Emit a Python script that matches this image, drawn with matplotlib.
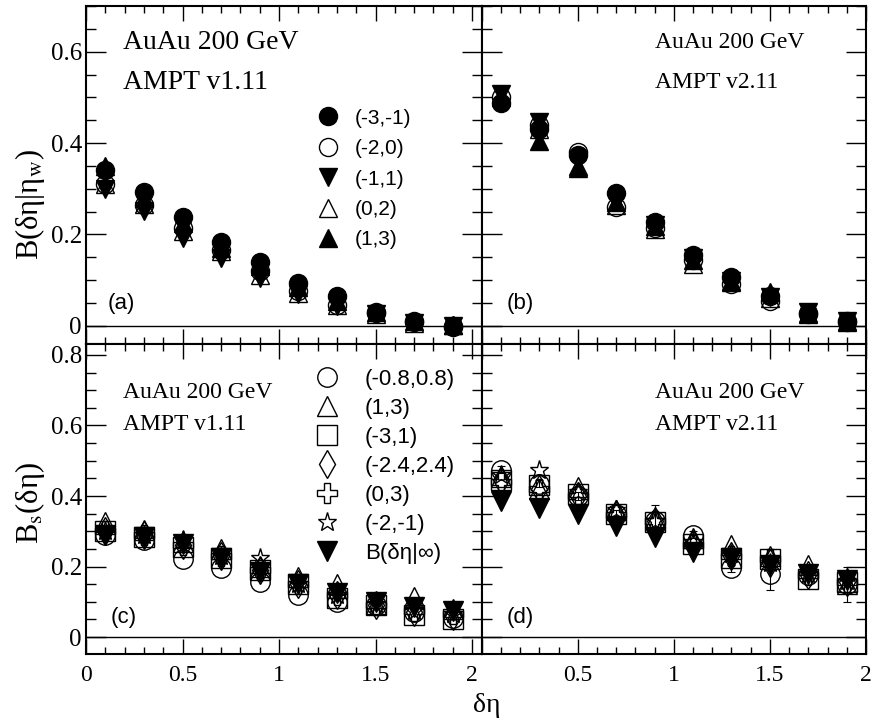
import matplotlib
matplotlib.use("Agg")
import matplotlib.pyplot as plt
from matplotlib.ticker import MultipleLocator, FuncFormatter

plt.rcParams["font.family"] = "Liberation Serif"
plt.rcParams["mathtext.fontset"] = "stix"

# Data
x_deta = [0.1, 0.3, 0.5, 0.7, 0.9, 1.1, 1.3, 1.5, 1.7, 1.9]

labels_ab = ["(-3,-1)", "(-2,0)", "(-1,1)", "(0,2)", "(1,3)"]
# panel (a): AMPT v1.11, B(deta|eta_w)
a_m3m1 = [0.340, 0.293, 0.239, 0.184, 0.140, 0.094, 0.064, 0.031, 0.011, -0.002]
a_m20 = [0.310, 0.265, 0.215, 0.165, 0.120, 0.075, 0.045, 0.028, 0.008, 0.000]
a_m11 = [0.300, 0.252, 0.193, 0.149, 0.105, 0.070, 0.044, 0.025, 0.006, 0.000]
a_02 = [0.310, 0.267, 0.208, 0.164, 0.112, 0.072, 0.045, 0.026, 0.007, 0.001]
a_13 = [0.350, 0.280, 0.225, 0.170, 0.130, 0.085, 0.055, 0.030, 0.010, 0.002]
# panel (b): AMPT v2.11
b_m3m1 = [0.488, 0.430, 0.374, 0.290, 0.228, 0.155, 0.107, 0.064, 0.028, 0.009]
b_m20 = [0.500, 0.440, 0.381, 0.260, 0.215, 0.145, 0.092, 0.055, 0.025, 0.010]
b_m11 = [0.508, 0.447, 0.360, 0.270, 0.220, 0.148, 0.097, 0.062, 0.030, 0.010]
b_02 = [0.500, 0.430, 0.350, 0.265, 0.212, 0.135, 0.095, 0.060, 0.026, 0.008]
b_13 = [0.500, 0.405, 0.346, 0.270, 0.218, 0.145, 0.098, 0.074, 0.027, 0.010]

labels_cd = ["(-0.8,0.8)", "(1,3)", "(-3,1)", "(-2.4,2.4)", "(0,3)", "(-2,-1)",
             "B(δη|∞)"]
# panel (c): AMPT v1.11, B_s(deta)
c_m08 = [0.290, 0.275, 0.220, 0.195, 0.155, 0.118, 0.100, 0.090, 0.070, 0.055]
c_13 = [0.325, 0.305, 0.270, 0.250, 0.200, 0.170, 0.150, 0.095, 0.113, 0.080]
c_m31 = [0.300, 0.285, 0.255, 0.225, 0.190, 0.150, 0.110, 0.090, 0.062, 0.050]
c_m24 = [0.300, 0.290, 0.260, 0.230, 0.190, 0.150, 0.120, 0.090, 0.070, 0.060]
c_03 = [0.300, 0.290, 0.260, 0.230, 0.190, 0.150, 0.120, 0.090, 0.075, 0.065]
c_m2m1 = [0.300, 0.290, 0.275, 0.230, 0.225, 0.150, 0.120, 0.095, 0.075, 0.065]
c_inf = [0.290, 0.285, 0.265, 0.225, 0.185, 0.150, 0.125, 0.100, 0.085, 0.075]
# panel (d): AMPT v2.11
d_m08 = [0.475, 0.435, 0.400, 0.350, 0.330, 0.290, 0.195, 0.180, 0.175, 0.150]
d_m08_err = [0.01, 0.01, 0.01, 0.01, 0.045, 0.01, 0.01, 0.047, 0.01, 0.05]
d_13 = [0.455, 0.420, 0.425, 0.360, 0.335, 0.280, 0.260, 0.230, 0.205, 0.150]
d_m31 = [0.445, 0.430, 0.405, 0.350, 0.325, 0.265, 0.225, 0.220, 0.165, 0.155]
d_m24 = [0.445, 0.420, 0.400, 0.350, 0.330, 0.265, 0.230, 0.210, 0.175, 0.155]
d_03 = [0.440, 0.420, 0.400, 0.345, 0.330, 0.260, 0.230, 0.220, 0.175, 0.155]
d_m2m1 = [0.460, 0.475, 0.410, 0.360, 0.330, 0.270, 0.235, 0.210, 0.180, 0.160]
d_inf = [0.385, 0.365, 0.350, 0.315, 0.285, 0.240, 0.225, 0.205, 0.180, 0.162]

# marker, filled, zorder
style_ab = [("o", True, 6), ("o", False, 3), ("v", True, 4), ("^", False, 3),
            ("^", True, 5)]
style_cd = [("o", False, 3), ("^", False, 3), ("s", False, 3), ("d", False, 3),
            ("P", False, 3), ("*", False, 3), ("v", True, 6)]

SANS = ["Liberation Sans", "DejaVu Sans"]


def setup_axis(ax, xlim, ylim, xlabels, ylabels, hide_zero=False):
    """Common frame / tick style"""
    ax.set_xlim(xlim)
    ax.set_ylim(ylim)
    ax.axhline(0, color="black", lw=1.0, zorder=1)
    for sp in ax.spines.values():
        sp.set_linewidth(1.5)
    ax.xaxis.set_major_locator(MultipleLocator(0.5))
    ax.xaxis.set_minor_locator(MultipleLocator(0.1))
    ax.yaxis.set_major_locator(MultipleLocator(0.2))
    ax.yaxis.set_minor_locator(MultipleLocator(0.05))
    ax.tick_params(which="both", direction="in", top=True, right=True,
                   width=1.0, colors="black")
    ax.tick_params(axis="x", which="major", length=11, pad=8, labelsize=17)
    ax.tick_params(axis="x", which="minor", length=5)
    ax.tick_params(axis="y", which="major", length=14.5, pad=3, labelsize=18)
    ax.tick_params(axis="y", which="minor", length=7)

    def fmt(v, p):
        if hide_zero and abs(v) < 1e-9:
            return ""
        return f"{v:g}"

    ax.xaxis.set_major_formatter(FuncFormatter(fmt))
    ax.yaxis.set_major_formatter(FuncFormatter(lambda v, p: f"{v:g}"))
    if not xlabels:
        ax.tick_params(axis="x", labelbottom=False)
    if not ylabels:
        ax.tick_params(axis="y", labelleft=False)


def draw_series(ax, series, styles, labels, ms, errs=None):
    handles = []
    for i, (yv, (mk, filled, zo)) in enumerate(zip(series, styles)):
        kw = dict(ls="none", marker=mk, ms=ms, mec="black", mew=1.0, zorder=zo)
        if filled:
            kw["mfc"] = "black"
        else:
            kw["mfc"] = "none"
        if errs is not None and errs[i] is not None:
            ax.errorbar(x_deta, yv, yerr=errs[i], fmt="none", ecolor="black",
                        elinewidth=0.8, capsize=3, capthick=0.8, zorder=zo)
        h, = ax.plot(x_deta, yv, label=labels[i], **kw)
        handles.append(h)
    return handles


fig = plt.figure(figsize=(8.74, 7.2), dpi=100)
W, H = 874, 720
ax_a = fig.add_axes([86 / W, 376 / H, 395.7 / W, 338 / H])
ax_b = fig.add_axes([481.7 / W, 376 / H, 384.3 / W, 338 / H])
ax_c = fig.add_axes([86 / W, 66 / H, 395.7 / W, 310 / H])
ax_d = fig.add_axes([481.7 / W, 66 / H, 384.3 / W, 310 / H])

setup_axis(ax_a, (0, 2.05), (-0.04, 0.70), False, True)
setup_axis(ax_b, (0, 2.0), (-0.04, 0.70), False, False)
setup_axis(ax_c, (0, 2.05), (-0.048, 0.831), True, True)
setup_axis(ax_d, (0, 2.0), (-0.048, 0.831), True, False, hide_zero=True)

h_a = draw_series(ax_a, [a_m3m1, a_m20, a_m11, a_02, a_13], style_ab,
                  labels_ab, 13)
draw_series(ax_b, [b_m3m1, b_m20, b_m11, b_02, b_13], style_ab, labels_ab, 13)
h_c = draw_series(ax_c, [c_m08, c_13, c_m31, c_m24, c_03, c_m2m1, c_inf],
                  style_cd, labels_cd, 14)
draw_series(ax_d, [d_m08, d_13, d_m31, d_m24, d_03, d_m2m1, d_inf],
            style_cd, labels_cd, 14,
            errs=[d_m08_err, None, None, None, None, None, None])

# Legends
ax_a.legend(handles=h_a, loc="center left", bbox_to_anchor=(0.585, 0.488),
            frameon=False, numpoints=1, handlelength=1.0, handletextpad=0.8,
            labelspacing=0.55, borderpad=0, borderaxespad=0,
            prop={"family": SANS, "size": 15})
ax_c.legend(handles=h_c, loc="center left", bbox_to_anchor=(0.581, 0.605),
            frameon=False, numpoints=1, handlelength=1.0, handletextpad=1.2,
            labelspacing=0.36, borderpad=0, borderaxespad=0,
            prop={"family": SANS, "size": 16})

# Annotations
ax_a.text(0.0935, 0.893, "AuAu 200 GeV", transform=ax_a.transAxes,
          fontsize=20, va="center")
ax_a.text(0.0935, 0.775, "AMPT v1.11", transform=ax_a.transAxes,
          fontsize=20, va="center")
ax_b.text(0.451, 0.893, "AuAu 200 GeV", transform=ax_b.transAxes,
          fontsize=17, va="center")
ax_b.text(0.451, 0.775, "AMPT v2.11", transform=ax_b.transAxes,
          fontsize=17, va="center")
ax_c.text(0.0935, 0.845, "AuAu 200 GeV", transform=ax_c.transAxes,
          fontsize=17, va="center")
ax_c.text(0.0935, 0.739, "AMPT v1.11", transform=ax_c.transAxes,
          fontsize=17, va="center")
ax_d.text(0.451, 0.845, "AuAu 200 GeV", transform=ax_d.transAxes,
          fontsize=17, va="center")
ax_d.text(0.451, 0.739, "AMPT v2.11", transform=ax_d.transAxes,
          fontsize=17, va="center")

for ax, lab, xp, yp in [(ax_a, "(a)", 0.0556, 0.121), (ax_b, "(b)", 0.066, 0.121),
                        (ax_c, "(c)", 0.063, 0.119), (ax_d, "(d)", 0.066, 0.119)]:
    ax.text(xp, yp, lab, transform=ax.transAxes, fontsize=16, va="center",
            family=SANS)

# Axis titles
fig.text(30 / W, 1 - 205 / H, "B(δη|η$_\\mathrm{w}$)", rotation=90,
         ha="center", va="center", fontsize=22)
fig.text(30 / W, 1 - 503 / H, "B$_\\mathrm{s}$(δη)", rotation=90,
         ha="center", va="center", fontsize=22)
fig.text(487 / W, 1 - 705 / H, "δη", ha="center", va="center", fontsize=20)

fig.savefig("out.png", dpi=100)
